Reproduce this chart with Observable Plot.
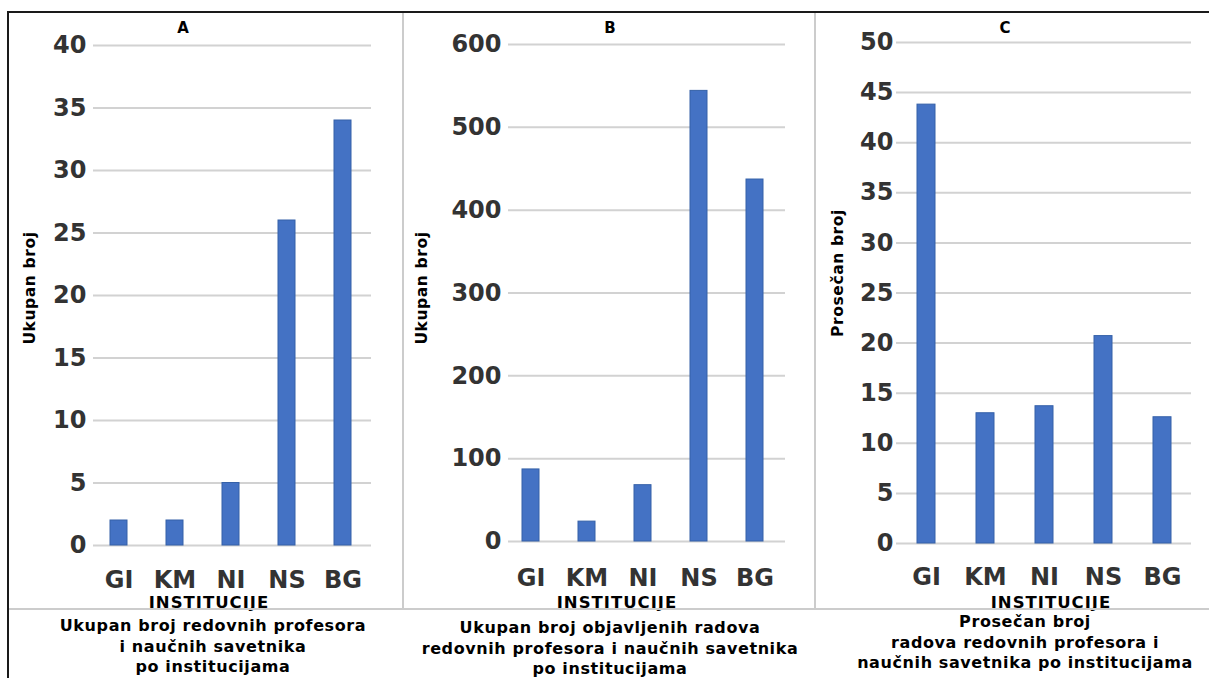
<!DOCTYPE html>
<html><head><meta charset="utf-8">
<script src="https://cdn.jsdelivr.net/npm/d3@7"></script>
<script src="https://cdn.jsdelivr.net/npm/@observablehq/plot@0.6"></script>
<style>
body{margin:0;background:#fff;}
#root{position:relative;width:1209px;height:678px;overflow:hidden;font-family:"DejaVu Sans",Verdana,sans-serif;color:#000;}
.line{position:absolute;}
.panel{position:absolute;top:12px;}
.title{position:absolute;font-weight:bold;font-size:15px;transform:translate(-50%,-50%);}
.xlab{position:absolute;font-weight:bold;font-size:16.5px;letter-spacing:1px;transform:translate(-50%,-50%);white-space:nowrap;}
.cap{position:absolute;font-weight:bold;font-size:16px;letter-spacing:0.6px;text-align:center;line-height:20.7px;transform:translateX(-50%);white-space:nowrap;}
.ylab{position:absolute;font-weight:bold;font-size:15.5px;letter-spacing:0.6px;transform:translate(-50%,-50%) rotate(-90deg);white-space:nowrap;}
</style>
</head><body>
<div id="root"></div>
<script>
const categories = ["GI","KM","NI","NS","BG"];
const profesori = [2, 2, 5, 26, 34];
const radovi = [87, 24, 68, 544, 437];
const prosek = [43.8, 13.0, 13.7, 20.7, 12.6];
const ticksA = [0,5,10,15,20,25,30,35,40];
const ticksB = [0,100,200,300,400,500,600];
const ticksC = [0,5,10,15,20,25,30,35,40,45,50];
const panelTitles = ["A","B","C"];
const yLabels = ["Ukupan broj","Ukupan broj","Prosečan broj"];
const xLabel = "INSTITUCIJE";
const captions = [
  ["Ukupan broj redovnih profesora","i naučnih savetnika","po institucijama"],
  ["Ukupan broj objavljenih radova","redovnih profesora i naučnih savetnika","po institucijama"],
  ["Prosečan broj","radova redovnih profesora i","naučnih savetnika po institucijama"]
];

const root = document.getElementById("root");
function div(cls, css, html){
  const d = document.createElement("div");
  d.className = cls; d.style.cssText = css; d.innerHTML = html || "";
  root.appendChild(d); return d;
}

const panels = [
  {values: profesori, ticks: ticksA, left: 8, width: 395, mL: 81, mR: 32, mT: 33, mB: 63, tp: 25, ytp: 3, gL: 4, gR: 0,
   title: [183, 28], ylab: [30, 288], xlab: [209, 602], cap: [213, 616]},
  {values: radovi, ticks: ticksB, left: 403, width: 412, mL: 99, mR: 32, mT: 32, mB: 67, tp: 27, ytp: 1, gL: 6, gR: -2,
   title: [610, 28], ylab: [422, 288], xlab: [617, 602], cap: [610, 618]},
  {values: prosek, ticks: ticksC, left: 815, width: 394, mL: 81, mR: 18, mT: 30, mB: 65, tp: 24, ytp: 3, gL: 0, gR: 0,
   title: [1005, 28], ylab: [838, 273], xlab: [1051, 602], cap: [1025, 612]}
];

panels.forEach((p, i) => {
  const data = categories.map((c, j) => ({cat: c, value: p.values[j]}));
  const chart = Plot.plot({
    width: p.width, height: 596,
    marginLeft: p.mL, marginRight: p.mR, marginTop: p.mT, marginBottom: p.mB,
    x: {domain: categories, paddingInner: 0.7, paddingOuter: 0.35, label: null, tickSize: 0, tickPadding: p.tp},
    y: {domain: [p.ticks[0], p.ticks[p.ticks.length-1]], ticks: p.ticks, label: null, tickSize: 0, tickPadding: p.ytp},
    style: {fontFamily: "'DejaVu Sans', Verdana, sans-serif", fontSize: "24px", fontWeight: "bold", color: "#333", background: "transparent", overflow: "visible"},
    marks: [
      Plot.ruleY(p.ticks, {stroke: "#d2d2d2", strokeWidth: 2, insetLeft: p.gL, insetRight: p.gR}),
      Plot.barY(data, {x: "cat", y: "value", fill: "#4472C4", stroke: "#3561a8", strokeWidth: 1})
    ]
  });
  const holder = div("panel", `left:${p.left}px;width:${p.width}px;height:596px;`);
  holder.appendChild(chart);
  div("title", `left:${p.title[0]}px;top:${p.title[1]}px;`, panelTitles[i]);
  div("ylab", `left:${p.ylab[0]}px;top:${p.ylab[1]}px;`, yLabels[i]);
  div("xlab", `left:${p.xlab[0]}px;top:${p.xlab[1]}px;`, xLabel);
  div("cap", `left:${p.cap[0]}px;top:${p.cap[1]}px;`, captions[i].join("<br>"));
});

// frame lines
div("line", "left:8px;top:11px;width:1201px;height:2px;background:#1a1a1a;");
div("line", "left:7px;top:11px;width:2px;height:667px;background:#1a1a1a;");
div("line", "left:402px;top:13px;width:2px;height:596px;background:#cccccc;");
div("line", "left:814px;top:13px;width:2px;height:596px;background:#cccccc;");
div("line", "left:9px;top:608px;width:1200px;height:2px;background:#cccccc;");
</script>
</body></html>
